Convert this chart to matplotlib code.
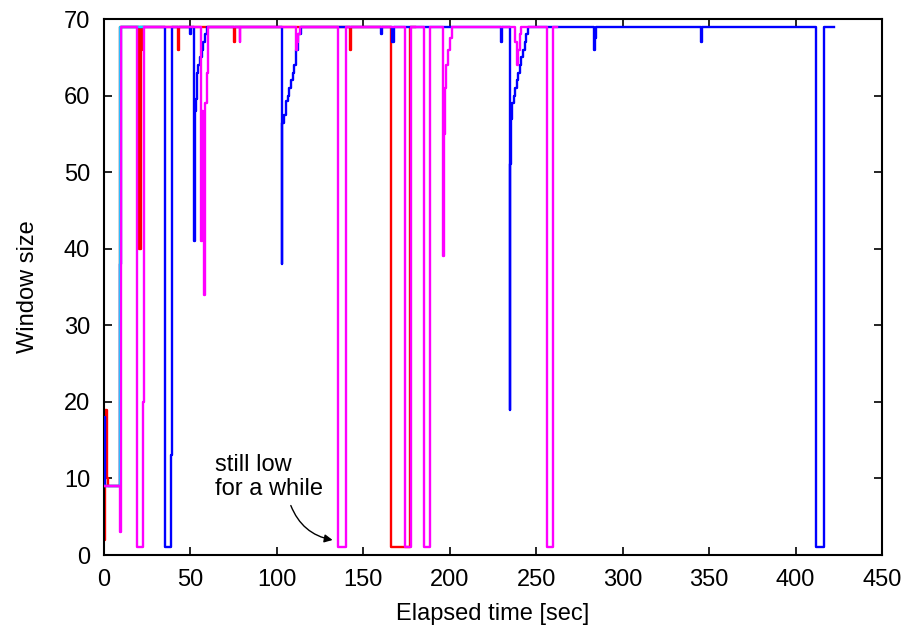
import numpy as np
import matplotlib
matplotlib.use("Agg")
import matplotlib.pyplot as plt

plt.rcParams['font.family'] = ['Liberation Sans', 'DejaVu Sans']

# window size traces (time [sec], window size), step changes
red_t = [0.2, 0.4, 0.6, 1.9, 2.2, 9.5, 20.4, 21.2, 21.6, 21.9, 42.7, 43.1, 75.1, 75.5,
         142.5, 142.9, 165.9, 176.9, 180.0]
red_w = [2, 12, 19, 10, 9, 69, 40, 69, 66, 69, 66, 69, 67, 69,
         66, 69, 1, 69, 69]

blue_t = [0.1, 0.4, 9.4, 9.6, 35.0, 38.8, 39.1, 50.0, 50.3,
          52.2, 52.7, 53.0, 53.6, 54.5, 55.5, 56.5, 57.4, 58.4, 59.4,
          102.7, 103.2, 104.0, 105.2, 106.2, 107.2, 108.1, 109.1, 110.0, 111.0, 112.3, 113.7,
          160.4, 160.8, 166.6, 167.8, 229.6, 230.2,
          234.7, 234.9, 235.3, 236.1, 237.3, 238.0, 238.6, 239.5, 240.5, 241.4, 242.4, 243.4, 244.3, 245.3,
          283.4, 283.9, 284.3, 345.4, 346.0, 411.9, 416.3, 416.7, 422.2]
blue_w = [18, 9, 38, 69, 1, 13, 69, 68, 69,
          41, 58, 59.6, 63, 64, 65, 66, 67, 68, 69,
          38, 56.4, 57.5, 59.3, 60, 61, 62, 63, 64, 66, 68, 69,
          68, 69, 67, 69, 67, 69,
          19, 51, 57, 59, 60, 61, 62, 63, 64, 65, 66, 67, 68, 69,
          66, 67.5, 69, 67, 69, 1, 65, 69, 69]

cyan_t = [0.2, 9.3, 9.45, 23.0]
cyan_w = [9, 37, 69, 69]

mag_t = [0.2, 9.3, 9.6, 19.0, 22.7, 22.9,
         56.0, 56.6, 57.1, 57.6, 57.8, 58.4, 59.4, 59.9,
         78.5, 78.9, 110.8, 111.5, 112.3, 113.3,
         135.4, 139.7, 140.0, 174.0, 177.8, 185.2, 188.4,
         196.1, 196.6, 197.2, 198.0, 199.0, 200.0, 201.0,
         238.0, 238.8, 239.6, 240.4, 241.2, 256.3, 259.6, 261.8]
mag_w = [9, 3, 69, 1, 20, 69,
         41, 58, 45, 50, 34, 59, 63, 69,
         67, 69, 66, 67, 68, 69,
         1, 58, 69, 1, 69, 1, 69,
         39, 55, 61, 64, 66, 67.5, 69,
         67, 64, 66, 68, 69, 1, 69, 69]

fig = plt.figure(figsize=(9.13, 6.34), dpi=100)
ax = fig.add_axes([104/913, 1-555/634, (882-104)/913, (555-19)/634])

ax.plot(red_t, red_w, color='#ff0000', lw=1.7, drawstyle='steps-post', zorder=2)
ax.plot(blue_t, blue_w, color='#0000ff', lw=1.7, drawstyle='steps-post', zorder=3)
ax.plot(cyan_t, cyan_w, color='#00e5ff', lw=1.7, drawstyle='steps-post', zorder=4)
ax.plot(mag_t, mag_w, color='#ff00ff', lw=1.7, drawstyle='steps-post', zorder=5)

ax.set_xlim(0, 450)
ax.set_ylim(0, 70)
ax.set_xticks(np.arange(0, 451, 50))
ax.set_yticks(np.arange(0, 71, 10))
ax.tick_params(direction='in', top=True, right=True, length=6, width=1.2,
               labelsize=17, pad=10)
for s in ax.spines.values():
    s.set_linewidth(1.5)

ax.set_xlabel('Elapsed time [sec]', fontsize=17, labelpad=9)
ax.set_ylabel('Window size', fontsize=17, labelpad=18)

ax.text(64, 13.2, 'still low\nfor a while', fontsize=17, va='top', ha='left',
        linespacing=1.15)
ax.annotate('', xy=(133.8, 1.9), xytext=(107.5, 6.8),
            arrowprops=dict(arrowstyle='-|>', color='black', lw=1,
                            mutation_scale=12,
                            connectionstyle='arc3,rad=0.3'))

fig.savefig('out.png', dpi=100)
